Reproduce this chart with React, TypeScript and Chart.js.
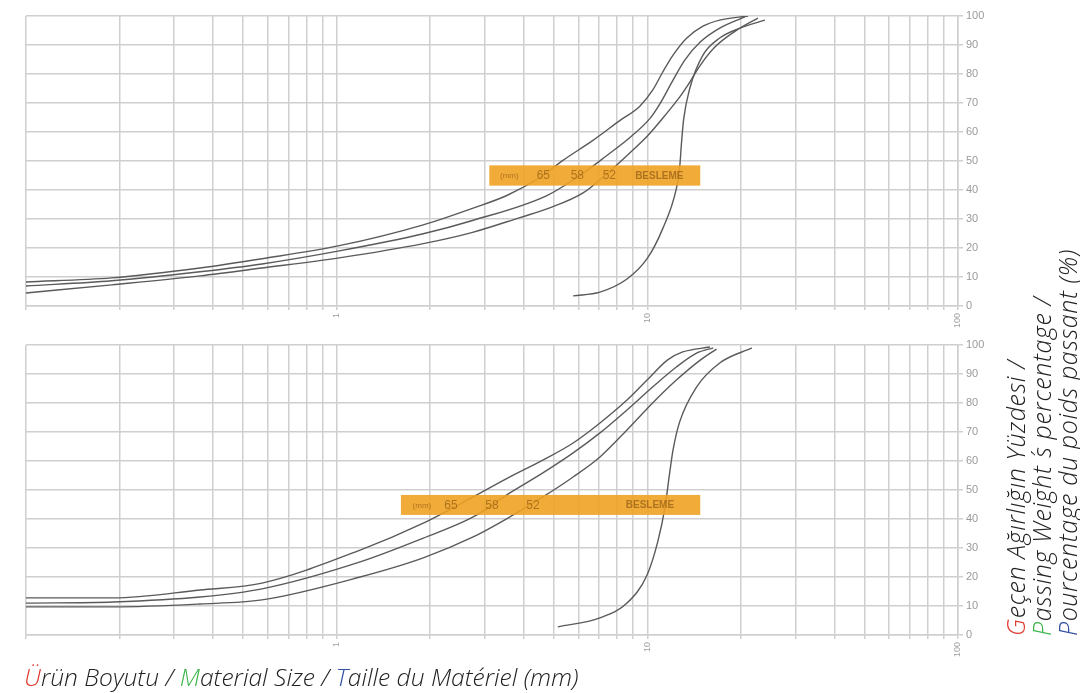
import React, { useEffect, useRef } from "react";
import { Chart, registerables } from "chart.js";

Chart.register(...registerables);

// ---- axis / tick data ----
const gridMm = [0.1, 0.2, 0.3, 0.4, 0.5, 0.6, 0.7, 0.8, 0.9, 1, 2, 3, 4, 5, 6, 7, 8, 9, 10, 20, 30, 40, 50, 60, 70, 80, 90, 100];
const xTickLabels = ["1", "10", "100"];
const seriesNames = ["65", "58", "52", "BESLEME"];
const boxTexts = ["(mm)", "65", "58", "52", "BESLEME"];

// ---- top chart (size mm / passing %) ----
const top65Size = [0.1, 0.189, 0.363, 0.575, 1.02, 1.9, 2.72, 3.53, 4.51, 5.35, 6.68, 8.17, 9.46, 10.4, 11.2, 12.1, 13.4, 15.1, 17.1, 21.1];
const top65Pass = [8.3, 9.7, 13.1, 16.3, 20.8, 28.0, 33.6, 38.1, 44.3, 50.2, 57.1, 64.0, 68.9, 74.4, 80.6, 86.5, 92.4, 96.5, 98.6, 100];
const top58Size = [0.1, 0.189, 0.363, 0.575, 1.02, 1.9, 2.72, 4.75, 6.07, 7.41, 8.79, 10.2, 11.0, 12.0, 13.2, 14.8, 17.1, 20.6];
const top58Pass = [6.9, 8.7, 11.8, 14.5, 19.0, 24.9, 29.4, 38.1, 45.0, 51.9, 58.1, 64.7, 69.9, 77.2, 84.8, 91.0, 95.8, 99.7];
const top52Size = [0.1, 0.189, 0.363, 0.575, 1.02, 1.9, 2.72, 3.89, 4.9, 6.21, 7.3, 8.6, 10.04, 11.4, 12.7, 13.7, 14.8, 16.5, 19.2, 22.7];
const top52Pass = [4.5, 7.3, 10.4, 13.1, 16.6, 21.5, 25.3, 30.5, 34.0, 39.0, 45.0, 51.9, 58.8, 65.7, 72.0, 77.2, 83.0, 89.3, 94.8, 99.3];
const topFeedSize = [5.77, 7.04, 8.6, 9.98, 11.2, 12.4, 12.7, 12.9, 13.1, 13.7, 15.1, 17.1, 19.9, 23.9];
const topFeedPass = [3.5, 4.8, 9.3, 16.3, 26.6, 40.5, 47.4, 57.1, 64.7, 75.1, 86.5, 92.4, 95.8, 98.6];

// ---- bottom chart ----
const bot65Size = [0.1, 0.191, 0.363, 0.575, 1.19, 1.9, 2.75, 3.61, 4.61, 5.77, 7.04, 8.6, 9.98, 11.6, 13.0, 15.9];
const bot65Pass = [12.8, 12.8, 15.5, 17.9, 29.3, 38.6, 47.6, 54.5, 60.3, 66.2, 73.1, 81.0, 87.9, 94.8, 97.6, 99.3];
const bot58Size = [0.1, 0.191, 0.363, 0.575, 1.19, 1.9, 2.75, 3.61, 4.61, 5.77, 7.04, 8.6, 10.4, 12.4, 14.4, 16.3];
const bot58Pass = [11.0, 11.4, 13.1, 15.9, 25.2, 33.4, 40.7, 49.0, 55.9, 62.8, 69.7, 77.6, 85.5, 92.4, 97.2, 99.0];
const bot52Size = [0.1, 0.191, 0.363, 0.575, 1.19, 1.9, 2.75, 3.61, 4.61, 5.77, 7.04, 8.6, 10.4, 12.4, 14.8, 16.7];
const bot52Pass = [9.7, 9.7, 10.7, 12.1, 20.0, 26.6, 33.8, 40.7, 47.6, 54.5, 61.4, 70.7, 80.0, 87.9, 94.8, 98.6];
const botFeedSize = [5.15, 7.04, 8.6, 9.98, 10.8, 11.4, 11.8, 12.1, 12.7, 14.4, 17.1, 21.7];
const botFeedPass = [2.8, 5.9, 11.0, 20.7, 32.1, 44.1, 55.9, 63.8, 73.4, 85.5, 93.8, 99.0];

const topSeries = [
  [top65Size, top65Pass],
  [top58Size, top58Pass],
  [top52Size, top52Pass],
  [topFeedSize, topFeedPass],
];
const bottomSeries = [
  [bot65Size, bot65Pass],
  [bot58Size, bot58Pass],
  [bot52Size, bot52Pass],
  [botFeedSize, botFeedPass],
];

// label box placement (data units) and text offsets (px from box left)
const topBox = { x0: 3.1, x1: 14.8, y0: 41.5, y1: 48.5, offsets: [20, 54, 88, 120, 170] };
const bottomBox = { x0: 1.61, x1: 14.8, y0: 41.4, y1: 48.3, offsets: [21, 50, 91, 132, 249] };

const GRID = "#cfcfcf";
const LINE = "#5a5a5a";

const boxPlugin = {
  id: "labelBox",
  afterDatasetsDraw(chart: any, _args: any, opts: any) {
    const { ctx, scales } = chart;
    const x = scales.x, y = scales.y;
    const l = x.getPixelForValue(opts.x0);
    const r = x.getPixelForValue(opts.x1);
    const t = y.getPixelForValue(opts.y1);
    const b = y.getPixelForValue(opts.y0);
    ctx.save();
    ctx.fillStyle = "rgba(240,162,35,0.9)";
    ctx.fillRect(l, t, r - l, b - t);
    ctx.textBaseline = "middle";
    ctx.textAlign = "center";
    ctx.fillStyle = "rgba(120,70,10,0.55)";
    boxTexts.forEach((s, i) => {
      const size = i === 0 ? 8 : i === 4 ? 10 : 12;
      ctx.font = (i === 4 ? "bold " : "") + size + "px 'Liberation Sans', Arial, sans-serif";
      ctx.fillText(s, l + opts.offsets[i], (t + b) / 2 + 0.5);
    });
    ctx.restore();
  },
};

function GradingChart({ series, box, top }: { series: number[][][]; box: any; top: number }) {
  const ref = useRef<HTMLCanvasElement>(null);
  useEffect(() => {
    const datasets = series.map((s, i) => ({
      label: seriesNames[i],
      data: s[0].map((v, j) => ({ x: v, y: s[1][j] })),
      showLine: true,
      borderColor: LINE,
      borderWidth: 1.4,
      pointRadius: 0,
      cubicInterpolationMode: "monotone" as const,
      fill: false,
    }));
    const chart = new Chart(ref.current as HTMLCanvasElement, {
      type: "scatter",
      data: { datasets },
      plugins: [boxPlugin],
      options: {
        animation: false,
        responsive: false,
        devicePixelRatio: 1,
        layout: { padding: { left: 26, top: 15, right: 0, bottom: 0 } },
        plugins: {
          legend: { display: false },
          tooltip: { enabled: false },
          labelBox: box,
        } as any,
        scales: {
          x: {
            type: "logarithmic",
            min: 0.1,
            max: 100,
            position: "bottom",
            afterBuildTicks: (s: any) => {
              s.ticks = gridMm.map((v) => ({ value: v }));
            },
            afterFit: (s: any) => {
              s.height = 30;
            },
            ticks: {
              autoSkip: false,
              minRotation: 90,
              maxRotation: 90,
              padding: 3,
              color: "#a0a0a0",
              font: { size: 9, family: "'Liberation Sans', Arial, sans-serif" },
              callback: (v: any) => (xTickLabels.includes(String(v)) ? String(v) : ""),
            },
            grid: { color: GRID, lineWidth: 1.5, tickLength: 4 },
            border: { color: GRID, width: 1.5 },
          },
          y: {
            type: "linear",
            position: "right",
            min: 0,
            max: 100,
            afterFit: (s: any) => {
              s.width = 42;
            },
            ticks: {
              stepSize: 10,
              padding: 3,
              color: "#9a9a9a",
              font: { size: 11, family: "'Liberation Sans', Arial, sans-serif" },
            },
            grid: { color: GRID, lineWidth: 1.5, tickLength: 5 },
            border: { color: GRID, width: 1.5 },
          },
        },
      } as any,
    });
    return () => chart.destroy();
  }, []);
  return (
    <canvas
      ref={ref}
      width={1000}
      height={335}
      style={{ position: "absolute", left: 0, top, width: 1000, height: 335 }}
    />
  );
}

const titleFont: React.CSSProperties = {
  fontFamily: "'Open Sans', 'Noto Sans', sans-serif",
  fontStyle: "italic",
  fontWeight: 300,
  color: "#222",
  whiteSpace: "nowrap",
};

export default function App() {
  return (
    <div style={{ position: "absolute", left: 0, top: 0, width: 1080, height: 693, background: "#fff", overflow: "hidden" }}>
      <GradingChart series={topSeries} box={topBox} top={1} />
      <GradingChart series={bottomSeries} box={bottomBox} top={330} />
      <div style={{ ...titleFont, fontSize: 24.6, position: "absolute", left: 24, top: 662, lineHeight: "30px" }}>
        <span style={{ color: "#e03a30" }}>Ü</span>rün Boyutu / <span style={{ color: "#3cb44b" }}>M</span>aterial Size /{" "}
        <span style={{ color: "#2f4fa0" }}>T</span>aille du Matériel (mm)
      </div>
      <div
        style={{
          ...titleFont,
          fontSize: 25,
          letterSpacing: 0.6,
          position: "absolute",
          left: 1002,
          top: 636,
          lineHeight: "26px",
          transform: "rotate(-90deg)",
          transformOrigin: "left top",
        }}
      >
        <div>
          <span style={{ color: "#e03a30" }}>G</span>eçen Ağırlığın Yüzdesi /
        </div>
        <div>
          <span style={{ color: "#3cb44b" }}>P</span>assing Weight ´s percentage /
        </div>
        <div>
          <span style={{ color: "#2f4fa0" }}>P</span>ourcentage du poids passant (%)
        </div>
      </div>
    </div>
  );
}
